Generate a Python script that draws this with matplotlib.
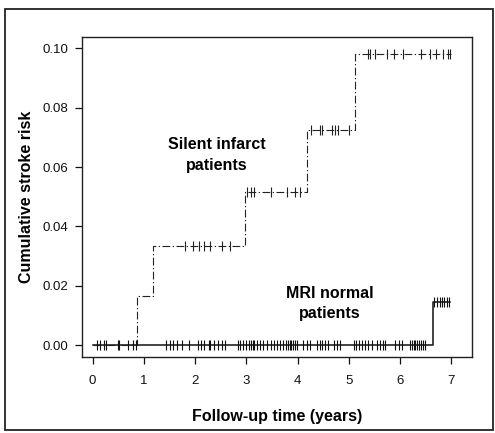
"""Cumulative stroke risk: silent infarct vs MRI normal patients."""

import numpy as np
import matplotlib
matplotlib.use("Agg")
import matplotlib.pyplot as plt
from matplotlib.patches import Rectangle

plt.rcParams["font.family"] = ["Liberation Sans", "DejaVu Sans"]

# ============ data ============
# step curves (time in years, cumulative risk after each event)
silent_times = [0.0, 0.87, 1.18, 2.97, 4.19, 5.11, 7.00]
silent_risk = [0.0, 0.0166, 0.0334, 0.0515, 0.0725, 0.098, 0.098]
normal_times = [0.0, 6.63, 6.97]
normal_risk = [0.0, 0.0146, 0.0146]

# censored observations
silent_censor = [1.81, 1.96, 2.07, 2.17, 2.29, 2.52, 2.68,
                 3.02, 3.09, 3.14, 3.47, 3.79, 3.95, 4.05,
                 4.26, 4.44, 4.48, 4.67, 4.72, 4.78, 5.00,
                 5.38, 5.41, 5.51, 5.74, 5.87, 6.06, 6.40, 6.58, 6.70,
                 6.84, 6.94, 6.97]
normal_censor = [0.08, 0.14, 0.22, 0.26, 0.49, 0.51, 0.68, 0.79, 0.85,
                 1.44, 1.51, 1.57, 1.64, 1.74, 1.87, 2.06, 2.11, 2.17,
                 2.26, 2.28, 2.36, 2.45, 2.52, 2.58,
                 2.84, 2.88, 2.94, 3.00, 3.04, 3.08, 3.12, 3.15, 3.20,
                 3.27, 3.33, 3.40, 3.47, 3.54, 3.59, 3.66, 3.72, 3.77,
                 3.81, 3.84, 3.87, 3.90, 3.94, 3.98, 4.11, 4.18, 4.24,
                 4.37, 4.44, 4.47, 4.53, 4.60, 4.70, 4.76, 4.83,
                 5.09, 5.14, 5.19, 5.25, 5.32, 5.38, 5.45, 5.54, 5.61,
                 5.67, 5.71, 5.90, 5.97, 6.03,
                 6.19, 6.23, 6.26, 6.29, 6.32, 6.36, 6.40, 6.44, 6.49,
                 6.65, 6.71, 6.77, 6.81, 6.86, 6.91, 6.96]

x_ticks = [0, 1, 2, 3, 4, 5, 6, 7]
y_ticks = [0.00, 0.02, 0.04, 0.06, 0.08, 0.10]


def risk_at(times, risk, t):
    """Step-function lookup of cumulative risk at times t."""
    idx = np.searchsorted(times, t, side="right") - 1
    return np.asarray(risk)[idx]


fig = plt.figure(figsize=(4.95, 4.33), dpi=100)
fig.patches.append(Rectangle((0.010, 0.007), 0.985, 0.973, transform=fig.transFigure,
                             fill=False, edgecolor="#222222", linewidth=1.3))

ax = fig.add_axes([0.1657, 0.1755, 0.7878, 0.739])

dashdot = (0, (7, 2.2, 1.2, 2.2))
ax.step(normal_times, normal_risk, where="post", color="#111111", linewidth=1.1)
ax.step(silent_times, silent_risk, where="post", color="#222222",
        linewidth=0.8, linestyle=dashdot)

ax.plot(normal_censor, risk_at(normal_times, normal_risk, normal_censor),
        linestyle="none", marker="|", markersize=7, markeredgewidth=0.8, color="#111111")
ax.plot(silent_censor, risk_at(silent_times, silent_risk, silent_censor),
        linestyle="none", marker="|", markersize=7, markeredgewidth=0.8, color="#222222")

ax.text(2.42, 0.064, "Silent infarct\npatients", ha="center", va="center",
        fontsize=11.5, fontweight="bold", linespacing=1.45)
ax.text(4.63, 0.0141, "MRI normal\npatients", ha="center", va="center",
        fontsize=11.5, fontweight="bold", linespacing=1.45)

ax.set_xlim(-0.208, 7.40)
ax.set_ylim(-0.0040, 0.1038)
ax.set_xticks(x_ticks)
ax.set_xticklabels([str(v) for v in x_ticks])
ax.set_yticks(y_ticks)
ax.set_yticklabels([f"{v:.2f}" for v in y_ticks])
ax.tick_params(axis="both", direction="out", length=5, width=0.9, labelsize=9.5,
               colors="#111111")
ax.tick_params(axis="x", pad=8)
ax.tick_params(axis="y", pad=5)
for sp in ax.spines.values():
    sp.set_linewidth(1.0)
    sp.set_color("#222222")

ax.set_xlabel("Follow-up time (years)", fontsize=11.5, fontweight="bold")
ax.xaxis.set_label_coords(0.5, -0.187)
ax.xaxis.label.set_va("center")
ax.set_ylabel("Cumulative stroke risk", fontsize=11.5, fontweight="bold")
ax.yaxis.set_label_coords(-0.142, 0.5)
ax.yaxis.label.set_va("center")

fig.savefig("out.png", dpi=100)
